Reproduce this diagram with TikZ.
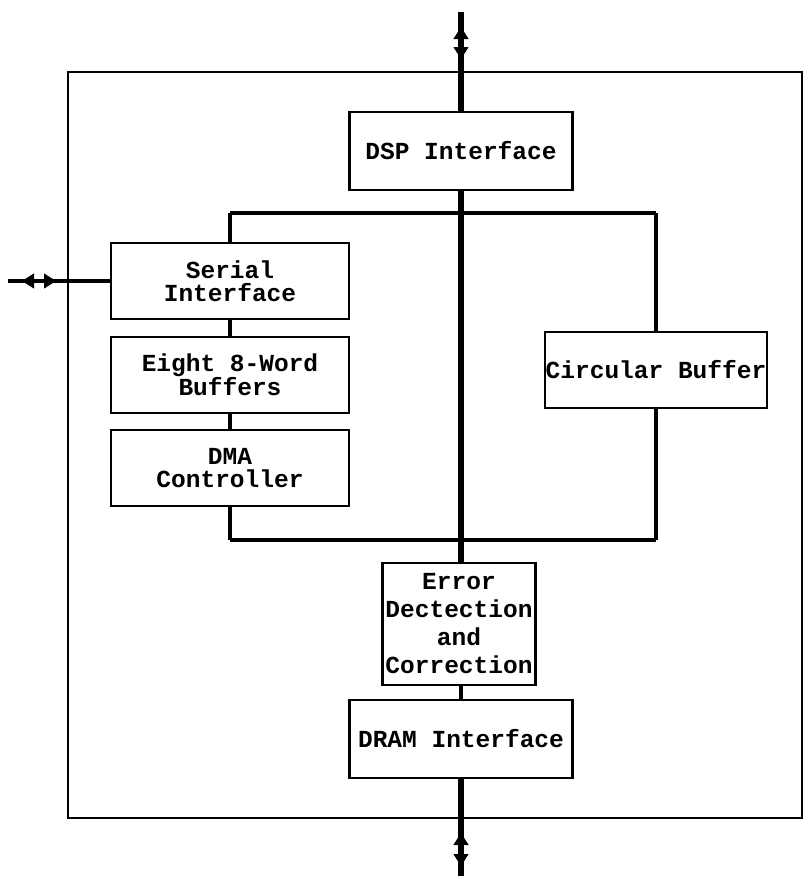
\documentclass[tikz,border=0pt]{standalone}
\usepackage{fontspec}
\setmainfont{Liberation Mono}
\usetikzlibrary{arrows.meta}
\begin{document}
\begin{tikzpicture}[x=1pt,y=-1pt,
  blk/.style={draw,line width=2.3pt,fill=white,inner sep=0pt,align=center,
    font=\fontsize{24.5}{23}\selectfont\bfseries},
  bus/.style={line width=4.5pt},
  mainbus/.style={line width=5.5pt},
  frame/.style={line width=2.6pt},
  tip/.style={line width=1pt,-{Triangle[length=12pt,width=15pt]}}]
\useasboundingbox (0,0) rectangle (806,876);
\fill[white] (0,0) rectangle (806,876);
% outer frame
\draw[frame] (68,72) rectangle (802,818);
% blocks
\node[blk,minimum width=223pt,minimum height=78pt] (dsp) at (461,151) {DSP Interface};
\node[blk,minimum width=238pt,minimum height=76pt] (ser) at (230,281) {Serial\\Interface};
\node[blk,minimum width=238pt,minimum height=76pt] (buf) at (230,375) {Eight 8-Word\\Buffers};
\node[blk,minimum width=238pt,minimum height=76pt] (dma) at (230,468) {DMA\\Controller};
\node[blk,minimum width=222pt,minimum height=76pt] (circ) at (656,370) {Circular Buffer};
\node[blk,minimum width=153pt,minimum height=122pt,font=\fontsize{24.5}{28}\selectfont\bfseries] (edc) at (459,624) {Error\\Dectection\\and\\Correction};
\node[blk,minimum width=223pt,minimum height=78pt] (dram) at (461,739) {DRAM Interface};
% bus corners and ends
\coordinate (tl) at (230,213);
\coordinate (tr) at (656,213);
\coordinate (bl) at (230,540);
\coordinate (br) at (656,540);
\coordinate (topend) at (461,12);
\coordinate (botend) at (461,876);
\coordinate (leftend) at (8,281);
% buses
\draw[bus] (tl) -- (tr);
\draw[bus] (bl) -- (br);
\draw[bus] (tl) -- (ser.north);
\draw[bus] (ser.south) -- (buf.north);
\draw[bus] (buf.south) -- (dma.north);
\draw[bus] (dma.south) -- (bl);
\draw[bus] (tr) -- (circ.north);
\draw[bus] (circ.south) -- (br);
\draw[mainbus] (topend) -- (dsp.north);
\draw[mainbus] (dsp.south) -- (edc.north -| dsp.south);
\draw[bus] (edc.south -| dram.north) -- (dram.north);
\draw[mainbus] (dram.south) -- (botend);
\draw[line width=3.2pt] (leftend) -- (ser.west);
% arrow tips
\coordinate (ua1) at (461,40);
\coordinate (ua2) at (461,27);
\coordinate (da1) at (461,46);
\coordinate (da2) at (461,59);
\draw[tip] (ua1) -- (ua2);
\draw[tip] (da1) -- (da2);
\coordinate (ub1) at (461,846);
\coordinate (ub2) at (461,833);
\coordinate (db1) at (461,853);
\coordinate (db2) at (461,866);
\draw[tip] (ub1) -- (ub2);
\draw[tip] (db1) -- (db2);
\coordinate (la1) at (36,281);
\coordinate (la2) at (22,281);
\coordinate (ra1) at (42,281);
\coordinate (ra2) at (56,281);
\draw[tip] (la1) -- (la2);
\draw[tip] (ra1) -- (ra2);
\end{tikzpicture}
\end{document}
